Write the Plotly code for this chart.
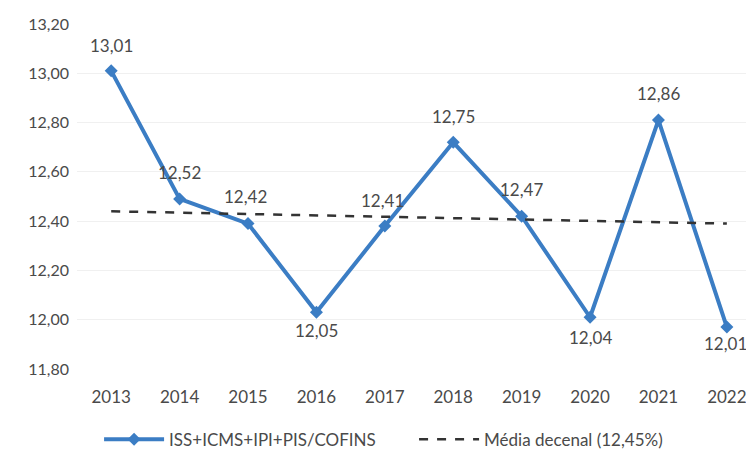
import plotly.graph_objects as go

years = [2013, 2014, 2015, 2016, 2017, 2018, 2019, 2020, 2021, 2022]
values = [13.01, 12.49, 12.39, 12.03, 12.38, 12.72, 12.42, 12.01, 12.81, 11.97]
labels = ["13,01", "12,52", "12,42", "12,05", "12,41", "12,75", "12,47", "12,04", "12,86", "12,01"]
avg_x = [2013, 2022]
avg_y = [12.44, 12.39]
y_ticks = [11.80, 12.00, 12.20, 12.40, 12.60, 12.80, 13.00, 13.20]
series_name = "ISS+ICMS+IPI+PIS/COFINS"
avg_name = "Média decenal (12,45%)"

# label pixel offsets (style only)
label_dy = [25, 26, 27, -18, 26, 26, 27, -20, 27, -16]
label_dx = [0, 0, -3, 0, -2, 0, 0, 0, 0, -1]

FONT = "Lato, 'Open Sans', sans-serif"
TXT = "#4a4a4a"

fig = go.Figure()
fig.add_trace(go.Scatter(
    x=years, y=values, mode="lines+markers", name=series_name,
    line=dict(color="#3b7dc4", width=4),
    marker=dict(symbol="diamond", size=10, color="#3b7dc4"),
))
fig.add_trace(go.Scatter(
    x=avg_x, y=avg_y, mode="lines", name=avg_name,
    line=dict(color="#333333", width=2.5, dash="dash"),
))

for x, y, t, dx, dy in zip(years, values, labels, label_dx, label_dy):
    fig.add_annotation(x=x, y=y, text=t, showarrow=False, xshift=dx, yshift=dy,
                       font=dict(family=FONT, size=17, color=TXT))

fig.update_layout(
    width=746, height=454,
    margin=dict(l=77, r=0, t=24, b=85, autoexpand=False),
    paper_bgcolor="white", plot_bgcolor="white",
    separators=",.",
    showlegend=True,
    legend=dict(orientation="h", x=0.033, xanchor="left", y=-0.205, yanchor="middle",
                font=dict(family=FONT, size=17, color=TXT), itemwidth=60,
                entrywidth=240, entrywidthmode="pixels",
                bgcolor="rgba(0,0,0,0)"),
    font=dict(family=FONT, size=17, color=TXT),
)
fig.update_xaxes(range=[2012.5, 2022.28], tickmode="array", tickvals=years,
                 ticktext=[str(y) for y in years], showgrid=False, zeroline=False,
                 showline=False, ticks="", ticklen=0, ticklabelstandoff=16,
                 ticklabeloverflow="allow", automargin=False,
                 tickfont=dict(family=FONT, size=17, color=TXT))
fig.update_yaxes(range=[11.8, 13.2], tickmode="array", tickvals=y_ticks,
                 tickformat=".2f", showgrid=True, gridcolor="#f0f0f0", gridwidth=1,
                 zeroline=False, showline=False, ticks="", ticklabelstandoff=7,
                 automargin=False,
                 tickfont=dict(family=FONT, size=16, color=TXT))

fig.write_html("out.html")
